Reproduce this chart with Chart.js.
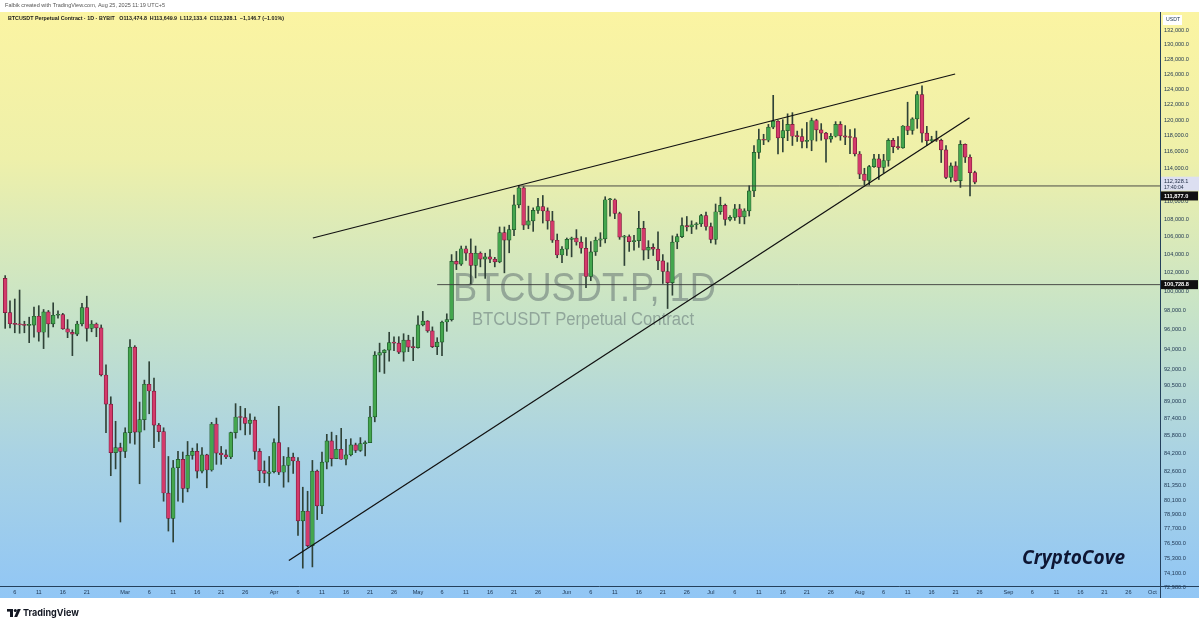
<!DOCTYPE html>
<html>
<head>
<meta charset="utf-8">
<title>BTCUSDT.P 1D</title>
<script src="https://cdn.jsdelivr.net/npm/chart.js"></script>
<style>
  html, body { margin: 0; padding: 0; background: #fff; overflow: hidden; }
</style>
</head>
<body>
<canvas id="myChart" width="1199" height="627"></canvas>
<script>
// daily candles Feb 4 .. Aug 25 2025, x = days counted from Feb 6
var FIRST_DAY = -2;

var OPEN = [
  // Feb 4-28
  101400, 97780, 96620, 96560, 96500, 96450, 96470, 97400, 95750, 97850, 96600, 97500, 97560,
  96100, 95750, 95550, 96600, 98300, 96150, 96600, 96200, 91500, 88700, 84250, 84700,
  // Mar
  84350, 86050, 94250, 86100, 87250, 90600, 89950, 86750, 86150, 80700, 78550, 82900, 83650, 81100, 84000, 84350,
  82600, 84050, 82700, 86850, 84200, 84050, 83850, 86050, 87500, 87450, 86900, 87200, 84350, 82650, 82400,
  // Apr
  82550, 85150, 82500, 83100, 83850, 83500, 78350, 79150, 76300, 82600, 79600, 83400, 85300, 83700, 84550,
  83650, 84050, 84950, 84450, 85050, 85150, 87500, 93450, 93700, 93950, 94700, 94650, 93750, 94950, 94250,
  // May
  94200, 96500, 96900, 95900, 94300, 94750, 96800, 97050, 103250, 102950, 104650, 104150, 102800, 104150, 103500, 103750,
  103500, 103200, 106450, 105600, 106800, 109650, 111650, 107300, 107800, 109000, 109450, 108950, 107800, 105600, 103950,
  // Jun
  104600, 105700, 105850, 105400, 104700, 101600, 104300, 105600, 105750, 110250, 110250, 108650, 105950, 106000, 105450,
  105550, 106950, 104500, 104800, 104600, 103300, 102150, 100950, 105400, 106000, 107250, 107100, 107350, 107450, 108400,
  // Jul
  107150, 105700, 108850, 109600, 107950, 108200, 109200, 108250, 108950, 111300, 115950, 117550, 117450, 119100, 119850, 117750,
  118650, 119450, 117950, 117900, 117300, 117450, 119950, 118750, 118350, 117600, 117950, 119450, 118000, 117850, 117800,
  // Aug 1-25
  115750, 113300, 112550, 114200, 115150, 114100, 114950, 117450, 116650, 116500, 119250, 118700, 120150,
  123300, 118350, 117400, 117500, 117450, 116250, 112900, 114300, 112500, 116950, 115350, 113474.8
];
var HIGH = [
  101700, 99000, 99200, 100150, 96880, 97300, 98350, 98500, 98100, 98000, 98800, 97950, 97700,
  97050, 96000, 96880, 98750, 99500, 96950, 96700, 96500, 92500, 89400, 87100, 85100,
  86500, 95000, 94400, 88900, 91000, 92800, 91200, 86900, 86500, 83900, 83550, 84350, 84300, 85250, 84650, 85050,
  84700, 84100, 87000, 87400, 84800, 84500, 86100, 88750, 88500, 88300, 87800, 87500, 84600, 83500, 83900,
  85500, 88500, 83900, 84700, 84200, 83800, 81200, 80850, 83550, 82700, 84300, 85900, 86100, 85800, 86450,
  85450, 85500, 85100, 85600, 85300, 88500, 93800, 94650, 94000, 95750, 95300, 95300, 95600, 95450, 95250,
  97450, 97900, 96950, 96300, 95200, 96900, 97650, 104000, 104350, 104950, 104950, 105750, 104950, 104300, 104150, 104550,
  103700, 107100, 107100, 107300, 110800, 111950, 111800, 109500, 109300, 110400, 110750, 109300, 108900, 106300, 104900,
  105850, 105950, 106800, 106000, 105900, 105450, 105950, 106450, 110600, 110400, 110350, 108800, 106150, 106200, 106150,
  108900, 107750, 105550, 105200, 106550, 104000, 103100, 106100, 106300, 108150, 108300, 107800, 107600, 108550, 108800,
  107550, 109750, 110550, 109750, 108400, 109700, 109700, 109200, 111900, 116800, 118850, 118200, 119450, 123200, 119950, 120050,
  120800, 120950, 118600, 118900, 119700, 120250, 120100, 119550, 118450, 118300, 119800, 119800, 119300, 118800, 118900,
  116050, 114000, 114350, 115700, 115700, 115700, 117650, 117700, 117900, 119300, 122300, 120300, 123700,
  124450, 119200, 117950, 118600, 117600, 116800, 114650, 114800, 117400, 117000, 115650, 113649.9
];
var LOW = [
  96150, 96200, 95700, 95650, 95700, 94700, 95250, 94850, 94100, 95250, 96300, 97200, 96050,
  95200, 93400, 95400, 96400, 94850, 95800, 95300, 91400, 86050, 82200, 82800, 78250,
  83800, 85100, 85000, 81500, 86300, 87800, 84700, 85250, 80000, 77500, 76600, 80000, 79900, 80800, 83650, 82000,
  82450, 81150, 82600, 83200, 83200, 83700, 83700, 85550, 86300, 85850, 85900, 83650, 81600, 81600, 81300,
  82450, 82300, 81200, 81650, 82400, 77150, 74500, 76200, 74600, 78450, 78950, 82800, 83050, 83700, 83650,
  83150, 83950, 84250, 84350, 83950, 85150, 87050, 91800, 91650, 92850, 93900, 93600, 92850, 93800, 92900,
  94150, 96400, 95750, 94200, 93500, 93400, 95850, 96900, 102350, 102800, 103350, 100800, 101450, 102650, 101400, 103100,
  102650, 103100, 102000, 104200, 106100, 109300, 106800, 106900, 106600, 108650, 107550, 106850, 105350, 103650, 103100,
  103900, 103750, 105050, 104150, 100400, 101150, 103900, 104900, 105300, 108350, 108050, 105700, 102800, 104350, 104500,
  104800, 103400, 103550, 103900, 102350, 100850, 98200, 99600, 104650, 105900, 106650, 106350, 106850, 107150, 106750,
  105300, 105150, 108550, 107300, 107800, 107850, 107500, 107450, 108350, 110600, 115200, 116900, 117250, 118900, 115750, 116000,
  117400, 116800, 117300, 116500, 116500, 116150, 117350, 117450, 114750, 117200, 117850, 117450, 116900, 115800, 115500,
  112750, 112000, 112000, 114100, 112650, 113450, 114250, 115900, 116300, 116450, 118150, 118200, 118950,
  117200, 116800, 117200, 117300, 114700, 112750, 112350, 112400, 111700, 114700, 110700, 112133.4
];
var CLOSE = [
  97780, 96620, 96560, 96500, 96450, 96470, 97400, 95750, 97850, 96600, 97500, 97560, 96100,
  95750, 95550, 96600, 98300, 96150, 96600, 96200, 91500, 88700, 84250, 84700, 84350,
  86050, 94250, 86100, 87250, 90600, 89950, 86750, 86150, 80700, 78550, 82900, 83650, 81100, 84000, 84350, 82600,
  84050, 82700, 86850, 84200, 84050, 83850, 86050, 87500, 87450, 86900, 87200, 84350, 82650, 82400, 82550,
  85150, 82500, 83100, 83850, 83500, 78350, 79150, 76300, 82600, 79600, 83400, 85300, 83700, 84550, 83650,
  84050, 84950, 84450, 85050, 85150, 87500, 93450, 93700, 93950, 94700, 94650, 93750, 94950, 94250, 94200,
  96500, 96900, 95900, 94300, 94750, 96800, 97050, 103250, 102950, 104650, 104150, 102800, 104150, 103500, 103750, 103500,
  103200, 106450, 105600, 106800, 109650, 111650, 107300, 107800, 109000, 109450, 108950, 107800, 105600, 103950, 104600,
  105700, 105850, 105400, 104700, 101600, 104300, 105600, 105750, 110250, 110250, 108650, 105950, 106000, 105450, 105550,
  106950, 104500, 104800, 104600, 103300, 102150, 100950, 105400, 106000, 107250, 107100, 107350, 107450, 108400, 107150,
  105700, 108850, 109600, 107950, 108200, 109200, 108250, 108950, 111300, 115950, 117550, 117450, 119100, 119850, 117750, 118650,
  119450, 117950, 117900, 117300, 117450, 119950, 118750, 118350, 117600, 117950, 119450, 118000, 117850, 117800, 115750,
  113300, 112550, 114200, 115150, 114100, 114950, 117450, 116650, 116500, 119250, 118700, 120150, 123300,
  118350, 117400, 117500, 117450, 116250, 112900, 114300, 112500, 116950, 115350, 113475, 112328.1
];

var Y_TICKS = [132000, 130000, 128000, 126000, 124000, 122000, 120000, 118000, 116000, 114000, 110000,
  108000, 106000, 104000, 102000, 100000, 98000, 96000, 94000, 92000, 90500, 89000, 87400, 85800,
  84200, 82600, 81350, 80100, 78900, 77700, 76500, 75300, 74100, 72980];

var X_TICK_DAYS = [0, 5, 10, 15, 23, 28, 33, 38, 43, 48, 54, 59, 64, 69, 74, 79, 84, 89, 94, 99, 104, 109,
  115, 120, 125, 130, 135, 140, 145, 150, 155, 160, 165, 170, 176, 181, 186, 191, 196, 201,
  207, 212, 217, 222, 227, 232, 237];
var X_TICK_LABELS = ['6', '11', '16', '21', 'Mar', '6', '11', '16', '21', '26', 'Apr', '6', '11', '16', '21', '26',
  'May', '6', '11', '16', '21', '26', 'Jun', '6', '11', '16', '21', '26', 'Jul', '6', '11', '16', '21', '26',
  'Aug', '6', '11', '16', '21', '26', 'Sep', '6', '11', '16', '21', '26', 'Oct'];

// drawn lines (day, price)
var UPPER_TREND = [{ x: 62.1, y: 105850 }, { x: 195.9, y: 126030 }];
var LOWER_TREND = [{ x: 57.1, y: 75105 }, { x: 198.9, y: 120290 }];
var LEVEL_HIGH = 111877.0;
var LEVEL_HIGH_FROM = 104.9;
var LEVEL_LOW = 100728.8;
var LEVEL_LOW_FROM = 88.0;
var LAST_PRICE = 112328.1;
var COUNTDOWN = '17:40:04';

var X_MIN = -3.08, X_MAX = 238.58;
var Y_MIN = 73100, Y_MAX = 134620;

var UP = '#44a64e', UP_EDGE = '#1c5528', DOWN = '#d43a6b', DOWN_EDGE = '#761838', WICK = '#2f4237';
var AXIS_LINE = '#24405c', AXIS_TEXT = '#1d3450';

var bodies = [], wicks = [];
for (var i = 0; i < OPEN.length; i++) {
    bodies.push({ x: FIRST_DAY + i, y: [OPEN[i], CLOSE[i]] });
    wicks.push({ x: FIRST_DAY + i, y: [LOW[i], HIGH[i]] });
}
function isUp(ctx) { return CLOSE[ctx.dataIndex] >= OPEN[ctx.dataIndex]; }

function fitText(c, txt, x, y, w) {
    var m = c.measureText(txt).width;
    c.save();
    c.translate(x, y);
    c.scale(w / m, 1);
    c.fillText(txt, 0, 0);
    c.restore();
}
function fmt(v) {
    return Number(v).toLocaleString('en-US', { minimumFractionDigits: 1, maximumFractionDigits: 1 });
}

var decor = {
    id: 'decor',
    beforeDraw: function (chart) {
        var c = chart.ctx, W = chart.width, H = chart.height;
        var top = chart.chartArea.top, bot = chart.scales.x.bottom;
        c.save();
        c.fillStyle = '#ffffff';
        c.fillRect(0, 0, W, H);
        var g = c.createLinearGradient(0, top, 0, bot);
        g.addColorStop(0, '#fbf4a2');
        g.addColorStop(0.25, '#eef0aa');
        g.addColorStop(0.5, '#c9e4c6');
        g.addColorStop(0.75, '#aad3e3');
        g.addColorStop(1, '#91c6f5');
        c.fillStyle = g;
        c.fillRect(0, top, W, bot - top);
        c.restore();
    },
    beforeDatasetsDraw: function (chart) {
        var c = chart.ctx;
        c.save();
        c.fillStyle = 'rgba(70, 80, 90, 0.42)';
        c.textBaseline = 'alphabetic';
        c.textAlign = 'left';
        c.font = '40px "Liberation Sans", Arial, sans-serif';
        fitText(c, 'BTCUSDT.P, 1D', 453, 301, 263);
        c.font = '18px "Liberation Sans", Arial, sans-serif';
        fitText(c, 'BTCUSDT Perpetual Contract', 472, 325, 222);
        c.restore();
    },
    afterDraw: function (chart) {
        var c = chart.ctx, W = chart.width;
        var ca = chart.chartArea, y = chart.scales.y;
        c.save();
        // axis frame lines
        c.strokeStyle = AXIS_LINE;
        c.lineWidth = 1;
        c.beginPath();
        c.moveTo(0, ca.bottom + 0.5); c.lineTo(W, ca.bottom + 0.5);
        c.moveTo(ca.right + 0.5, ca.top); c.lineTo(ca.right + 0.5, chart.scales.x.bottom);
        c.stroke();

        // header
        c.textAlign = 'left';
        c.textBaseline = 'middle';
        c.fillStyle = '#555';
        c.font = '5.4px "Liberation Sans", Arial, sans-serif';
        fitText(c, 'Falbik created with TradingView.com, Aug 25, 2025 11:19 UTC+5', 5, 5.5, 160);
        c.fillStyle = '#1a1a1a';
        c.font = 'bold 5.4px "Liberation Sans", Arial, sans-serif';
        fitText(c, 'BTCUSDT Perpetual Contract \u00b7 1D \u00b7 BYBIT   O113,474.8  H113,649.9  L112,133.4  C112,328.1  \u22121,146.7 (\u22121.01%)', 8, 19, 276);

        // price column labels
        var x0 = ca.right + 1;
        c.fillStyle = '#ffffff';
        c.fillRect(1163, 15, 19, 10);
        c.fillStyle = AXIS_TEXT;
        c.font = '5.2px "Liberation Sans", Arial, sans-serif';
        c.fillText('USDT', 1166, 20);

        var yp = y.getPixelForValue(LAST_PRICE);
        c.fillStyle = '#dcdff1';
        c.fillRect(x0, yp - 5.5, W - x0, 14);
        c.fillStyle = '#1d2a44';
        c.font = '5.6px "Liberation Sans", Arial, sans-serif';
        c.fillText(fmt(LAST_PRICE), ca.right + 4, yp - 1);
        c.font = '5px "Liberation Sans", Arial, sans-serif';
        c.fillText(COUNTDOWN, ca.right + 4, yp + 5);

        var boxes = [[LEVEL_HIGH, y.getPixelForValue(LEVEL_HIGH) + 10], [LEVEL_LOW, y.getPixelForValue(LEVEL_LOW)]];
        boxes.forEach(function (b) {
            c.fillStyle = '#101010';
            c.fillRect(x0, b[1] - 4.5, W - x0 - 1, 9);
            c.fillStyle = '#ffffff';
            c.font = 'bold 5.6px "Liberation Sans", Arial, sans-serif';
            c.fillText(fmt(b[0]), ca.right + 4, b[1] + 0.3);
        });

        // signature
        c.fillStyle = '#0e1633';
        c.textBaseline = 'alphabetic';
        c.font = 'italic bold 19px "Open Sans", "DejaVu Sans", sans-serif';
        fitText(c, 'CryptoCove', 1022, 564, 103);

        // footer logo
        c.fillStyle = '#131722';
        c.fillRect(7, 609, 6, 2.6);
        c.fillRect(10, 609, 3, 8);
        c.beginPath();
        c.arc(15.3, 610.4, 1.5, 0, Math.PI * 2);
        c.fill();
        c.beginPath();
        c.moveTo(17.6, 609); c.lineTo(20.8, 609); c.lineTo(17.2, 617); c.lineTo(14.2, 617);
        c.closePath();
        c.fill();
        c.font = 'bold 9.5px Inter, "Liberation Sans", sans-serif';
        c.textBaseline = 'middle';
        fitText(c, 'TradingView', 23, 613.5, 56);
        c.restore();
    }
};

var lineStyle = { type: 'line', pointRadius: 0, fill: false, order: 0, borderColor: '#111111', borderWidth: 1.25 };

var ctx = document.getElementById('myChart').getContext('2d');
new Chart(ctx, {
    type: 'bar',
    data: {
        datasets: [
            Object.assign({}, lineStyle, { data: UPPER_TREND }),
            Object.assign({}, lineStyle, { data: LOWER_TREND }),
            Object.assign({}, lineStyle, {
                data: [{ x: LEVEL_HIGH_FROM, y: LEVEL_HIGH }, { x: X_MAX, y: LEVEL_HIGH }],
                borderColor: '#3a3a3a', borderWidth: 0.9
            }),
            Object.assign({}, lineStyle, {
                data: [{ x: LEVEL_LOW_FROM, y: LEVEL_LOW }, { x: X_MAX, y: LEVEL_LOW }],
                borderColor: '#3a3a3a', borderWidth: 0.9
            }),
            {
                data: bodies,
                order: 1,
                grouped: false,
                barThickness: 3.8,
                minBarLength: 1,
                borderSkipped: false,
                borderWidth: 0.7,
                backgroundColor: function (c) { return isUp(c) ? UP : DOWN; },
                borderColor: function (c) { return isUp(c) ? UP_EDGE : DOWN_EDGE; }
            },
            {
                data: wicks,
                order: 2,
                grouped: false,
                barThickness: 1,
                borderWidth: 0,
                backgroundColor: WICK
            }
        ]
    },
    options: {
        responsive: false,
        animation: false,
        devicePixelRatio: 1,
        layout: { padding: { top: 12, bottom: 29, left: 0, right: 0 } },
        plugins: { legend: { display: false }, tooltip: { enabled: false } },
        scales: {
            x: {
                type: 'linear',
                min: X_MIN,
                max: X_MAX,
                offset: false,
                grid: { display: false, drawTicks: false, offset: false },
                border: { display: false },
                ticks: {
                    autoSkip: false,
                    maxRotation: 0,
                    padding: 3,
                    color: AXIS_TEXT,
                    font: { family: '"Liberation Sans", Arial, sans-serif', size: 5.6 },
                    callback: function (v) {
                        var k = X_TICK_DAYS.indexOf(v);
                        return k < 0 ? '' : X_TICK_LABELS[k];
                    }
                },
                afterBuildTicks: function (s) {
                    s.ticks = X_TICK_DAYS.map(function (d) { return { value: d }; });
                },
                afterFit: function (s) { s.height = 12; }
            },
            y: {
                type: 'logarithmic',
                position: 'right',
                min: Y_MIN,
                max: Y_MAX,
                beginAtZero: false,
                grid: { display: false, drawTicks: false },
                border: { display: false },
                ticks: {
                    autoSkip: false,
                    padding: 4,
                    color: AXIS_TEXT,
                    major: { enabled: false },
                    font: { family: '"Liberation Sans", Arial, sans-serif', size: 5.6 },
                    callback: function (v) { return fmt(v); }
                },
                afterBuildTicks: function (s) {
                    s.min = Y_MIN;
                    s.max = Y_MAX;
                    s.ticks = Y_TICKS.map(function (v) { return { value: v }; });
                },
                afterFit: function (s) { s.width = 39; }
            }
        }
    },
    plugins: [decor]
});
</script>
</body>
</html>
